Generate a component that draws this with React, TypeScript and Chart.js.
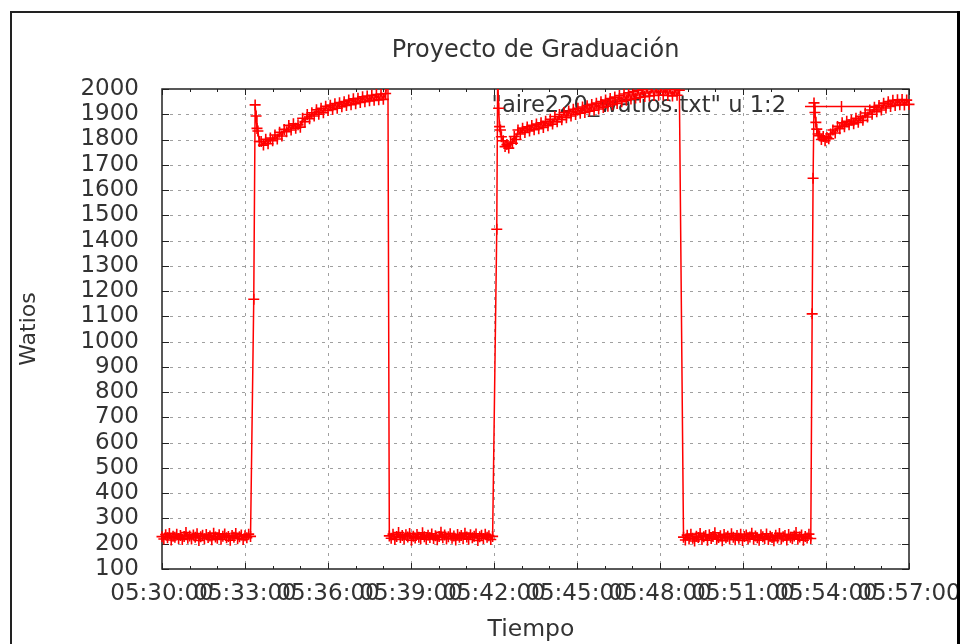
import React, { useEffect, useRef } from "react";
import { Chart, registerables } from "chart.js";

Chart.register(...registerables);

// ---------- texts ----------
const TITLE = "Proyecto de Graduación";
const X_TITLE = "Tiempo";
const Y_TITLE = "Watios";
const LEGEND_LABEL = '"aire220_watios.txt" u 1:2';

// ---------- axes ----------
const xTickLabels = [
  "05:30:00", "05:33:00", "05:36:00", "05:39:00", "05:42:00",
  "05:45:00", "05:48:00", "05:51:00", "05:54:00", "05:57:00",
];
const X_MIN = 0; // seconds after 05:30:00
const X_MAX = 1620;
const X_STEP = 180;
const X_MINOR = 60;
const Y_MIN = 100;
const Y_MAX = 2000;
const Y_STEP = 100;

// ---------- data (time = seconds after 05:30:00, value = watts) ----------
const off1Times = [0, 4, 8, 12, 16, 20, 24, 28, 32, 36, 40, 44, 48, 52, 56, 60, 64, 68, 72, 76, 80, 84, 88, 92, 96, 100, 104, 108, 112, 116, 120, 124, 128, 132, 136, 140, 144, 148, 152, 156, 160, 164, 168, 172, 176, 180, 184, 188, 192];
const off1Watts = [228, 219, 236, 224, 241, 215, 230, 226, 238, 221, 233, 217, 229, 244, 222, 231, 219, 235, 226, 240, 213, 228, 234, 220, 237, 225, 231, 216, 242, 227, 222, 236, 218, 230, 239, 224, 229, 214, 233, 226, 241, 220, 228, 235, 217, 232, 224, 238, 229];

const rise1Times = [199, 202, 204, 206, 208, 211];
const rise1Watts = [1168, 1937, 1893, 1844, 1834, 1792];

const on1Times = [215, 220, 225, 230, 235, 240, 245, 250, 255, 260, 265, 270, 275, 280, 285, 290, 295, 300, 305, 310, 315, 320, 325, 330, 335, 340, 345, 350, 355, 360, 365, 370, 375, 380, 385, 390, 395, 400, 405, 410, 415, 420, 425, 430, 435, 440, 445, 450, 455, 460, 465, 470, 475, 480, 485, 490];
const on1Watts = [1792, 1778, 1801, 1783, 1806, 1795, 1818, 1802, 1829, 1814, 1840, 1831, 1856, 1838, 1862, 1845, 1858, 1849, 1884, 1871, 1899, 1882, 1906, 1893, 1918, 1900, 1924, 1906, 1932, 1915, 1936, 1919, 1942, 1924, 1946, 1930, 1950, 1935, 1956, 1938, 1961, 1942, 1963, 1947, 1969, 1950, 1972, 1953, 1975, 1955, 1978, 1957, 1980, 1959, 1982, 2040];

const off2Times = [493, 497, 501, 505, 509, 513, 517, 521, 525, 529, 533, 537, 541, 545, 549, 553, 557, 561, 565, 569, 573, 577, 581, 585, 589, 593, 597, 601, 605, 609, 613, 617, 621, 625, 629, 633, 637, 641, 645, 649, 653, 657, 661, 665, 669, 673, 677, 681, 685, 689, 693, 697, 701, 705, 709, 713, 717];
const off2Watts = [231, 222, 238, 217, 229, 244, 225, 233, 219, 236, 227, 241, 214, 230, 223, 237, 226, 220, 243, 228, 218, 234, 225, 239, 221, 232, 216, 229, 245, 224, 235, 219, 228, 240, 222, 231, 215, 237, 226, 233, 220, 242, 227, 218, 236, 224, 230, 239, 213, 228, 234, 221, 238, 226, 232, 217, 229];

const rise2Times = [726, 728, 730, 732, 734, 736, 740, 744, 748, 752, 756, 760, 764, 768];
const rise2Watts = [1445, 2060, 1924, 1851, 1838, 1811, 1795, 1772, 1780, 1766, 1790, 1785, 1812, 1800];

const on2Times = [772, 777, 782, 787, 792, 797, 802, 807, 812, 817, 822, 827, 832, 837, 842, 847, 852, 857, 862, 867, 872, 877, 882, 887, 892, 897, 902, 907, 912, 917, 922, 927, 932, 937, 942, 947, 952, 957, 962, 967, 972, 977, 982, 987, 992, 997, 1002, 1007, 1012, 1017, 1022, 1027, 1032, 1037, 1042, 1047, 1052, 1057, 1062, 1067, 1072, 1077, 1082, 1087, 1092, 1097, 1102, 1107, 1112, 1117, 1122];
const on2Watts = [1838, 1822, 1845, 1828, 1850, 1834, 1856, 1839, 1861, 1843, 1866, 1848, 1872, 1855, 1880, 1861, 1891, 1870, 1899, 1878, 1907, 1886, 1913, 1893, 1920, 1899, 1924, 1904, 1929, 1907, 1934, 1912, 1939, 1916, 1944, 1921, 1950, 1927, 1956, 1932, 1962, 1938, 1968, 1943, 1974, 1950, 1980, 1955, 1985, 1960, 1990, 1964, 1994, 1967, 1997, 1970, 2001, 1972, 2004, 1974, 2003, 1975, 2005, 1976, 2002, 1974, 2000, 1972, 1998, 1975, 1995];

const off3Times = [1131, 1135, 1139, 1143, 1147, 1151, 1155, 1159, 1163, 1167, 1171, 1175, 1179, 1183, 1187, 1191, 1195, 1199, 1203, 1207, 1211, 1215, 1219, 1223, 1227, 1231, 1235, 1239, 1243, 1247, 1251, 1255, 1259, 1263, 1267, 1271, 1275, 1279, 1283, 1287, 1291, 1295, 1299, 1303, 1307, 1311, 1315, 1319, 1323, 1327, 1331, 1335, 1339, 1343, 1347, 1351, 1355, 1359, 1363, 1367, 1371, 1375, 1379, 1383, 1387, 1391, 1395, 1399, 1403, 1407];
const off3Watts = [226, 215, 234, 219, 238, 222, 211, 230, 225, 241, 217, 228, 233, 214, 236, 221, 229, 243, 218, 225, 232, 212, 237, 224, 230, 219, 240, 226, 216, 233, 222, 238, 213, 229, 235, 220, 227, 242, 218, 231, 224, 214, 236, 228, 221, 239, 217, 230, 225, 212, 234, 223, 241, 219, 228, 233, 215, 237, 226, 220, 231, 244, 218, 227, 235, 214, 229, 223, 238, 221];

const rise3Times = [1410, 1412, 1414, 1416, 1418, 1420, 1423, 1426, 1430, 1434, 1438, 1442, 1446];
const rise3Watts = [1110, 1647, 1945, 1907, 1868, 1841, 1822, 1815, 1800, 1812, 1795, 1808, 1803];

const on3Times = [1450, 1455, 1460, 1465, 1470, 1475, 1480, 1485, 1490, 1495, 1500, 1505, 1510, 1515, 1520, 1525, 1530, 1535, 1540, 1545, 1550, 1555, 1560, 1565, 1570, 1575, 1580, 1585, 1590, 1595, 1600, 1605, 1610, 1615, 1620];
const on3Watts = [1822, 1838, 1826, 1852, 1843, 1866, 1851, 1872, 1858, 1877, 1862, 1884, 1868, 1892, 1876, 1905, 1889, 1917, 1900, 1928, 1910, 1935, 1917, 1944, 1925, 1950, 1931, 1955, 1935, 1957, 1938, 1958, 1937, 1956, 1939];

const segments: [number[], number[]][] = [
  [off1Times, off1Watts],
  [rise1Times, rise1Watts],
  [on1Times, on1Watts],
  [off2Times, off2Watts],
  [rise2Times, rise2Watts],
  [on2Times, on2Watts],
  [off3Times, off3Watts],
  [rise3Times, rise3Watts],
  [on3Times, on3Watts],
];

// ---------- style ----------
const FONT = "'DejaVu Sans', sans-serif";
const TEXT_COLOR = "#333333";
const RED = "#ff0000";
const GRID_COLOR = "#a0a0a0";

const decorPlugin = {
  id: "gnuplotDecor",
  beforeDatasetsDraw(chart: any) {
    const { ctx, chartArea: a, scales } = chart;
    const xs = scales.x;
    const ys = scales.y;
    ctx.save();

    // dotted grid
    ctx.strokeStyle = GRID_COLOR;
    ctx.lineWidth = 1;
    ctx.setLineDash([3, 5]);
    for (let v = Y_MIN + Y_STEP; v < Y_MAX; v += Y_STEP) {
      const py = Math.round(ys.getPixelForValue(v)) + 0.5;
      ctx.beginPath();
      ctx.moveTo(a.left, py);
      ctx.lineTo(a.right, py);
      ctx.stroke();
    }
    for (let t = X_MIN + X_STEP; t < X_MAX; t += X_STEP) {
      const px = Math.round(xs.getPixelForValue(t)) + 0.5;
      ctx.beginPath();
      ctx.moveTo(px, a.top);
      ctx.lineTo(px, a.bottom);
      ctx.stroke();
    }
    ctx.setLineDash([]);

    // legend (key)
    ctx.font = `22.6px ${FONT}`;
    ctx.fillStyle = TEXT_COLOR;
    ctx.textAlign = "right";
    ctx.textBaseline = "alphabetic";
    ctx.fillText(LEGEND_LABEL, 786, 112);
    ctx.strokeStyle = RED;
    ctx.lineWidth = 1.5;
    ctx.beginPath();
    ctx.moveTo(805, 106.5);
    ctx.lineTo(878, 106.5);
    ctx.moveTo(841.5 - 5.5, 106.5);
    ctx.lineTo(841.5 + 5.5, 106.5);
    ctx.moveTo(841.5, 101);
    ctx.lineTo(841.5, 112);
    ctx.stroke();

    // border
    ctx.strokeStyle = "#222";
    ctx.lineWidth = 1.5;
    ctx.strokeRect(a.left, a.top, a.right - a.left, a.bottom - a.top);

    // ticks
    ctx.lineWidth = 1;
    ctx.beginPath();
    for (let v = Y_MIN; v <= Y_MAX; v += Y_STEP) {
      const py = Math.round(ys.getPixelForValue(v)) + 0.5;
      ctx.moveTo(a.left, py);
      ctx.lineTo(a.left + 7, py);
      ctx.moveTo(a.right, py);
      ctx.lineTo(a.right - 7, py);
    }
    for (let t = X_MIN; t <= X_MAX; t += X_MINOR) {
      const px = Math.round(xs.getPixelForValue(t)) + 0.5;
      const len = t % X_STEP === 0 ? 6 : 3;
      ctx.moveTo(px, a.bottom);
      ctx.lineTo(px, a.bottom - len);
      ctx.moveTo(px, a.top);
      ctx.lineTo(px, a.top + len);
    }
    ctx.stroke();

    // titles
    ctx.fillStyle = TEXT_COLOR;
    ctx.textAlign = "center";
    ctx.font = `24px ${FONT}`;
    ctx.fillText(TITLE, (a.left + a.right) / 2, 57);
    ctx.font = `23.5px ${FONT}`;
    ctx.fillText(X_TITLE, 531, 636);
    ctx.save();
    ctx.translate(29, (a.top + a.bottom) / 2);
    ctx.rotate(-Math.PI / 2);
    ctx.textBaseline = "middle";
    ctx.font = `22px ${FONT}`;
    ctx.fillText(Y_TITLE, 0, 0);
    ctx.restore();

    ctx.restore();
  },
  afterDraw(chart: any) {
    const { ctx } = chart;
    ctx.save();
    ctx.strokeStyle = "#222";
    ctx.lineWidth = 2;
    ctx.beginPath();
    ctx.moveTo(11, 644);
    ctx.lineTo(11, 12);
    ctx.lineTo(958, 12);
    ctx.stroke();
    ctx.strokeStyle = "#000";
    ctx.lineWidth = 3;
    ctx.beginPath();
    ctx.moveTo(958.5, 11);
    ctx.lineTo(958.5, 644);
    ctx.stroke();
    ctx.restore();
  },
};

export default function App() {
  const ref = useRef<HTMLCanvasElement | null>(null);

  useEffect(() => {
    document.body.style.margin = "0";
    const points: { x: number; y: number }[] = [];
    segments.forEach(([times, watts]) => {
      times.forEach((t, i) => points.push({ x: t, y: watts[i] }));
    });

    const tickFont = { family: FONT, size: 23 };
    const chart = new Chart(ref.current as HTMLCanvasElement, {
      type: "line",
      data: {
        datasets: [
          {
            data: points,
            borderColor: RED,
            borderWidth: 1.5,
            pointStyle: "cross",
            pointRadius: 5.5,
            pointBorderColor: RED,
            pointBackgroundColor: RED,
            pointBorderWidth: 1.6,
            tension: 0,
            clip: { left: 8, right: 8, top: 0, bottom: 8 },
          } as any,
        ],
      },
      options: {
        responsive: false,
        animation: false,
        events: [],
        layout: { padding: { top: 89, right: 52, bottom: 0, left: 0 } },
        plugins: {
          legend: { display: false },
          title: { display: false },
          tooltip: { enabled: false },
        },
        scales: {
          x: {
            type: "linear",
            min: X_MIN,
            max: X_MAX,
            grid: { display: false, drawTicks: false },
            border: { display: false },
            ticks: {
              stepSize: X_STEP,
              autoSkip: false,
              maxRotation: 0,
              minRotation: 0,
              padding: 11,
              color: TEXT_COLOR,
              font: tickFont,
              callback: (v: any) => xTickLabels[Math.round((Number(v) - X_MIN) / X_STEP)] ?? "",
            },
            afterFit: (s: any) => {
              s.height = 75;
              s.paddingLeft = 0;
              s.paddingRight = 0;
            },
          },
          y: {
            type: "linear",
            min: Y_MIN,
            max: Y_MAX,
            grid: { display: false, drawTicks: false },
            border: { display: false },
            ticks: {
              stepSize: Y_STEP,
              autoSkip: false,
              padding: 23,
              color: TEXT_COLOR,
              font: tickFont,
              callback: (v: any) => String(v),
            },
            afterFit: (s: any) => {
              s.width = 162;
              s.paddingTop = 0;
              s.paddingBottom = 0;
            },
          },
        },
      },
      plugins: [decorPlugin],
    });
    return () => chart.destroy();
  }, []);

  return (
    <canvas
      ref={ref}
      width={961}
      height={644}
      style={{ display: "block", width: "961px", height: "644px" }}
    />
  );
}
